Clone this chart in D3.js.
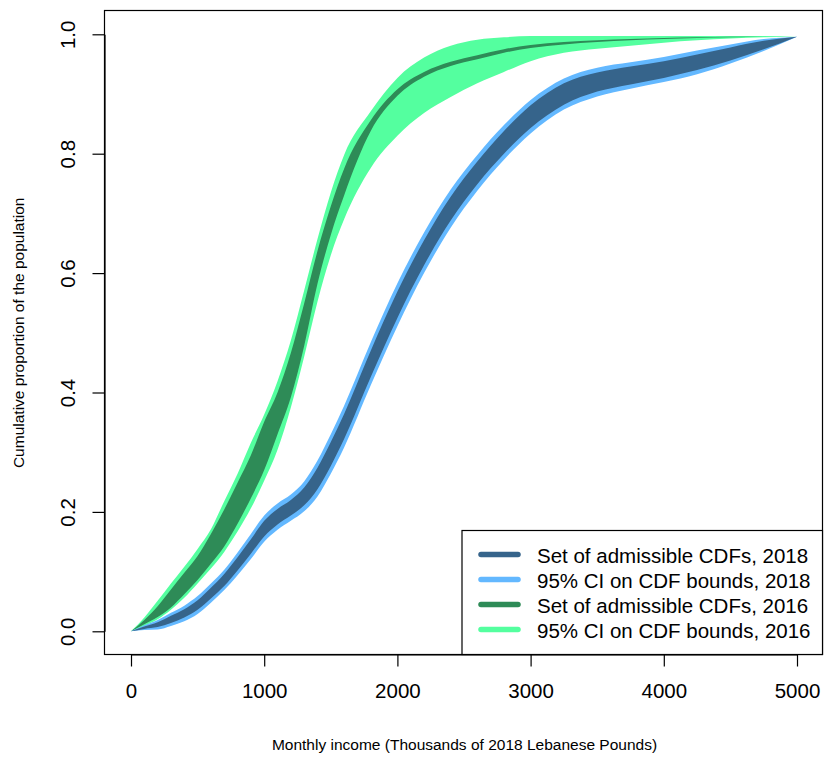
<!DOCTYPE html>
<html>
<head>
<meta charset="utf-8">
<script src="https://cdn.jsdelivr.net/npm/d3@7"></script>
<style>
  html, body { margin: 0; padding: 0; background: #ffffff; }
  svg { display: block; }
  text { font-family: "Liberation Sans", Arial, Helvetica, sans-serif; fill: #000; }
</style>
</head>
<body>
<svg id="chart" width="825" height="758"></svg>
<script>
// ---------------- data ----------------
const income = [0, 100, 200, 300, 400, 500, 600, 700, 800, 900, 1000, 1100, 1200, 1300, 1400, 1500, 1600,
                1800, 2000, 2200, 2400, 2600, 2800, 3000, 3250, 3500, 3750, 4000, 4250, 4500, 4750, 5000];

// 2016: 95% CI upper / lower, admissible set upper / lower
const ci16Upper  = [0, 0.023, 0.051, 0.080, 0.108, 0.138, 0.171, 0.218, 0.264, 0.316, 0.363, 0.419, 0.487, 0.571, 0.657, 0.735, 0.798,
                    0.871, 0.927, 0.961, 0.981, 0.991, 0.995, 0.997, 0.997, 0.997, 0.997, 0.997, 0.997, 0.997, 0.997, 0.996];
const adm16Upper = [0, 0.019, 0.042, 0.070, 0.098, 0.126, 0.163, 0.204, 0.249, 0.295, 0.351, 0.400, 0.466, 0.549, 0.637, 0.712, 0.775,
                    0.856, 0.908, 0.937, 0.954, 0.965, 0.975, 0.982, 0.987, 0.990, 0.992, 0.994, 0.995, 0.996, 0.996, 0.996];
const adm16Lower = [0, 0.012, 0.024, 0.040, 0.062, 0.086, 0.113, 0.142, 0.180, 0.223, 0.270, 0.330, 0.392, 0.478, 0.582, 0.664, 0.730,
                    0.838, 0.897, 0.929, 0.947, 0.958, 0.969, 0.977, 0.983, 0.987, 0.990, 0.992, 0.994, 0.995, 0.996, 0.996];
const ci16Lower  = [0, 0.009, 0.020, 0.036, 0.056, 0.080, 0.105, 0.133, 0.167, 0.206, 0.252, 0.304, 0.375, 0.460, 0.552, 0.630, 0.690,
                    0.776, 0.830, 0.868, 0.895, 0.918, 0.937, 0.955, 0.969, 0.976, 0.981, 0.986, 0.990, 0.993, 0.995, 0.996];

// 2018
const ci18Upper  = [0, 0.010, 0.019, 0.031, 0.043, 0.059, 0.080, 0.103, 0.132, 0.163, 0.194, 0.214, 0.229, 0.251, 0.286, 0.330, 0.378,
                    0.484, 0.583, 0.668, 0.740, 0.798, 0.848, 0.890, 0.926, 0.944, 0.953, 0.962, 0.973, 0.983, 0.992, 0.996];
const adm18Upper = [0, 0.008, 0.015, 0.026, 0.037, 0.052, 0.073, 0.096, 0.124, 0.154, 0.185, 0.205, 0.220, 0.241, 0.274, 0.317, 0.364,
                    0.470, 0.569, 0.655, 0.728, 0.787, 0.838, 0.881, 0.918, 0.936, 0.946, 0.955, 0.966, 0.978, 0.989, 0.996];
const adm18Lower = [0, 0.004, 0.007, 0.014, 0.023, 0.036, 0.055, 0.076, 0.102, 0.130, 0.159, 0.179, 0.194, 0.211, 0.238, 0.277, 0.322,
                    0.426, 0.525, 0.613, 0.688, 0.749, 0.800, 0.843, 0.882, 0.904, 0.916, 0.927, 0.940, 0.956, 0.975, 0.996];
const ci18Lower  = [0, 0.002, 0.003, 0.009, 0.017, 0.029, 0.048, 0.069, 0.094, 0.121, 0.150, 0.170, 0.185, 0.201, 0.226, 0.264, 0.308,
                    0.412, 0.511, 0.600, 0.676, 0.738, 0.790, 0.834, 0.874, 0.896, 0.909, 0.920, 0.933, 0.951, 0.972, 0.996];

const xTickValues = [0, 1000, 2000, 3000, 4000, 5000];
const xTickLabels = ["0", "1000", "2000", "3000", "4000", "5000"];
const yTickValues = [0, 0.2, 0.4, 0.6, 0.8, 1.0];
const yTickLabels = ["0.0", "0.2", "0.4", "0.6", "0.8", "1.0"];

const legendLabels = ["Set of admissible CDFs, 2018", "95% CI on CDF bounds, 2018",
                      "Set of admissible CDFs, 2016", "95% CI on CDF bounds, 2016"];
const legendColors = ["#36648B", "#63B8FF", "#2E8B57", "#54FF9F"];

const xTitle = "Monthly income (Thousands of 2018 Lebanese Pounds)";
const yTitle = "Cumulative proportion of the population";

// ---------------- layout ----------------
const frame = { left: 104.5, top: 10.5, right: 822.5, bottom: 654.5 };
const svg = d3.select("#chart");

const x = d3.scaleLinear().domain([0, 5000]).range([131, 797]);
const y = d3.scaleLinear().domain([0, 1]).range([631.3, 34.3]);

function band(lower, upper) {
  const rows = income.map((v, i) => ({ v, lo: lower[i], hi: upper[i] }));
  return d3.area()
    .x(d => x(d.v))
    .y0(d => y(d.lo))
    .y1(d => y(d.hi))
    .curve(d3.curveMonotoneX)(rows);
}

const plot = svg.append("g");
// 2016 first, 2018 drawn on top
plot.append("path").attr("d", band(ci16Lower, ci16Upper)).attr("fill", legendColors[3]);
plot.append("path").attr("d", band(adm16Lower, adm16Upper)).attr("fill", legendColors[2]);
plot.append("path").attr("d", band(ci18Lower, ci18Upper)).attr("fill", legendColors[1]);
plot.append("path").attr("d", band(adm18Lower, adm18Upper)).attr("fill", legendColors[0]);

// frame
svg.append("rect")
  .attr("x", frame.left).attr("y", frame.top)
  .attr("width", frame.right - frame.left).attr("height", frame.bottom - frame.top)
  .attr("fill", "none").attr("stroke", "#000").attr("stroke-width", 1.2);

// x axis
const gx = svg.append("g")
  .attr("transform", `translate(0,${frame.bottom})`)
  .call(d3.axisBottom(x).tickValues(xTickValues).tickFormat((d, i) => xTickLabels[i])
        .tickSize(12).tickSizeOuter(0).tickPadding(17));
gx.selectAll("line, path").attr("stroke", "#000").attr("stroke-width", 1.2);
gx.selectAll("text").attr("font-size", "20.5px").attr("font-family", "Liberation Sans, Arial, sans-serif").attr("fill", "#000");

// y axis
const gy = svg.append("g")
  .attr("transform", `translate(${frame.left},0)`)
  .call(d3.axisLeft(y).tickValues(yTickValues).tickFormat((d, i) => yTickLabels[i])
        .tickSize(12).tickSizeOuter(0));
gy.selectAll("line, path").attr("stroke", "#000").attr("stroke-width", 1.2);
gy.selectAll("text")
  .attr("x", null).attr("dy", null).attr("y", null)
  .attr("text-anchor", "middle")
  .attr("transform", "translate(-29.3,0) rotate(-90)")
  .attr("font-size", "20.5px").attr("font-family", "Liberation Sans, Arial, sans-serif").attr("fill", "#000");

// axis titles
svg.append("text")
  .attr("x", (131 + 797) / 2 + 0.5).attr("y", 750)
  .attr("text-anchor", "middle").attr("font-size", "15.5px")
  .text(xTitle);
svg.append("text")
  .attr("transform", `translate(24,${(631.3 + 34.3) / 2}) rotate(-90)`)
  .attr("text-anchor", "middle").attr("font-size", "15.5px")
  .text(yTitle);

// legend
const lg = svg.append("g");
lg.append("rect")
  .attr("x", 462).attr("y", 530.5)
  .attr("width", frame.right - 462).attr("height", frame.bottom - 530.5)
  .attr("fill", "#fff").attr("stroke", "#000").attr("stroke-width", 1.2);
legendLabels.forEach((lab, i) => {
  const yy = 554.5 + i * 25;
  lg.append("line")
    .attr("x1", 481).attr("x2", 518).attr("y1", yy).attr("y2", yy)
    .attr("stroke", legendColors[i]).attr("stroke-width", 5.5).attr("stroke-linecap", "round");
  lg.append("text")
    .attr("x", 537).attr("y", yy + 8.5)
    .attr("font-size", "20.5px")
    .text(lab);
});
</script>
</body>
</html>
